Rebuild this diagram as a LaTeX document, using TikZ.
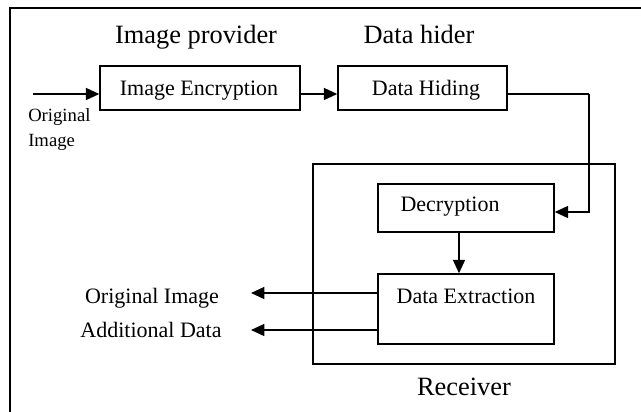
\documentclass[tikz,border=0pt]{standalone}
\usepackage{fontspec}
\setmainfont{Liberation Serif}
\usetikzlibrary{arrows.meta}
\begin{document}
\begin{tikzpicture}[x=0.75pt,y=-0.75pt,
  box/.style={draw,line width=1.1pt,inner sep=0pt},
  head/.style={font=\fontsize{19.8}{24}\selectfont,anchor=base,inner sep=0pt},
  body/.style={font=\fontsize{16.5}{20}\selectfont,anchor=base,inner sep=0pt},
  small/.style={font=\fontsize{14}{17}\selectfont,anchor=base west,inner sep=0pt},
  link/.style={line width=1.1pt,-{Triangle[length=10pt,width=9pt]}},
  wire/.style={line width=1.1pt}]
\useasboundingbox (0,0) rectangle (641,411);
% outer frame (runs off the page on the right and bottom)
\draw[line width=1.3pt] (10,430) -- (10,8) -- (660,8);

% headings
\node[head] (hprov) at (196,43) {Image provider};
\node[head] (hhide) at (419,43) {Data hider};

% sender side
\node[box,minimum width=150pt,minimum height=33pt] (enc) at (200,88) {};
\node[body] (enct) at (199,95) {Image Encryption};
\node[box,minimum width=126.75pt,minimum height=33pt] (hid) at (422.5,88) {};
\node[body] (hidt) at (426,95) {Data Hiding};

\coordinate (src) at (33,94);
\coordinate (turn) at (589,94);
\node[small] (orig1) at (28,121) {Original};
\node[small] (orig2) at (28,146) {Image};

% receiver
\node[box,minimum width=226.5pt,minimum height=150pt] (rcv) at (464,264) {};
\node[head] (rcvt) at (464,395) {Receiver};
\node[box,minimum width=132pt,minimum height=36pt] (dec) at (466,208) {};
\node[body] (dect) at (450,211) {Decryption};
\node[box,minimum width=132pt,minimum height=52.5pt] (ext) at (466,309) {};
\node[body] (extt) at (466,303) {Data Extraction};

% outputs
\coordinate (o1) at (251,293);
\coordinate (o2) at (251,330);
\node[body] (oimg) at (152,303) {Original Image};
\node[body] (odat) at (151,337) {Additional Data};

% connectors
\draw[link] (src) -- (src -| enc.west);
\draw[link] (enc.east |- src) -- (hid.west |- src);
\draw[wire] (hid.east |- turn) -- (turn);
\draw[link] (turn) -- (turn |- 0,212) -- (dec.east |- 0,212);
\draw[link] (dec.south -| 459,0) -- (ext.north -| 459,0);
\draw[link] (ext.west |- o1) -- (o1);
\draw[link] (ext.west |- o2) -- (o2);
\end{tikzpicture}
\end{document}
